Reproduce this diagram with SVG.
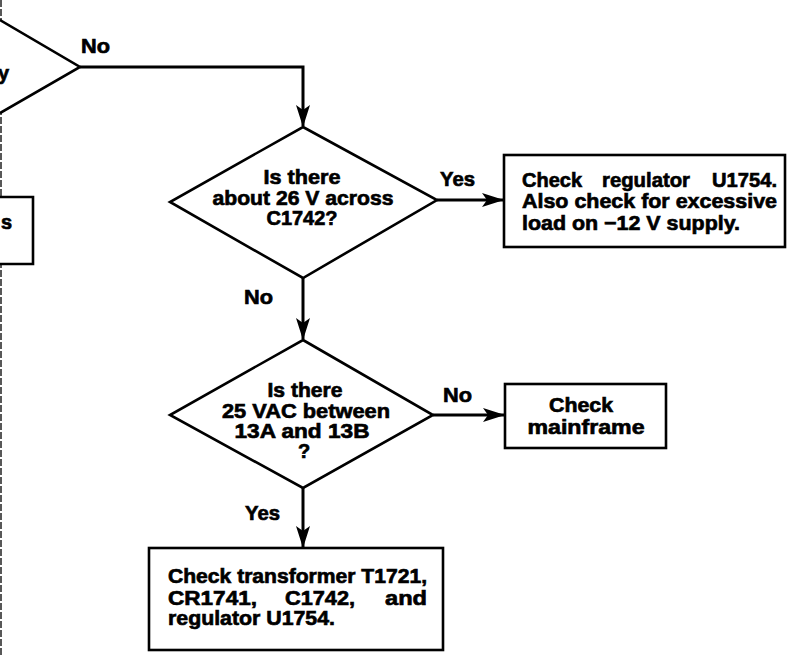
<svg xmlns="http://www.w3.org/2000/svg" width="789" height="656" viewBox="0 0 789 656">
<defs>
<style>
.shape{fill:#fff;stroke:#000;stroke-width:2.6;stroke-linejoin:miter}
.conn{fill:none;stroke:#000;stroke-width:3}
text{font-family:"Liberation Sans",Arial,Helvetica,sans-serif;font-weight:bold;font-size:20px;fill:#000;stroke:#000;stroke-width:0.65}
.c{text-anchor:middle}
.e{text-anchor:end}
</style>
<marker id="arr" markerUnits="userSpaceOnUse" markerWidth="22" markerHeight="14" refX="21" refY="7" orient="auto">
<path d="M0,0 L22,7 L0,14 L5,7 z" fill="#000"/>
</marker>
</defs>
<rect width="789" height="656" fill="#fff"/>
<line x1="1" y1="0" x2="1" y2="656" stroke="#222" stroke-width="1.5" stroke-dasharray="7 2"/>

<g id="node-top-decision">
<polyline class="shape" points="0,20 80,67 0,113" fill="none"/>
<text x="-2" y="80">y</text>
</g>
<g id="node-left-box">
<polyline class="shape" points="0,197 33,197 33,264 0,264" fill="none"/>
<text x="1" y="229">s</text>
</g>

<g id="connectors">
<path class="conn" d="M80,67 H303 V126" marker-end="url(#arr)"/>
<path class="conn" d="M437,200 H503" marker-end="url(#arr)"/>
<path class="conn" d="M303,278 V339" marker-end="url(#arr)"/>
<path class="conn" d="M433,415 H504" marker-end="url(#arr)"/>
<path class="conn" d="M303,488 V547" marker-end="url(#arr)"/>
<text x="81" y="53" textLength="29" lengthAdjust="spacingAndGlyphs">No</text>
<text x="440" y="186" textLength="35" lengthAdjust="spacingAndGlyphs">Yes</text>
<text x="244" y="304" textLength="29" lengthAdjust="spacingAndGlyphs">No</text>
<text x="443" y="402" textLength="29" lengthAdjust="spacingAndGlyphs">No</text>
<text x="245" y="520" textLength="35" lengthAdjust="spacingAndGlyphs">Yes</text>
</g>

<g id="node-d1">
<polygon class="shape" points="303,127 437,200 303,278 170,202"/>
<text class="c" x="302" y="184" textLength="77" lengthAdjust="spacingAndGlyphs">Is there</text>
<text class="c" x="303" y="205" textLength="181" lengthAdjust="spacingAndGlyphs">about 26 V across</text>
<text class="c" x="302" y="225" textLength="71" lengthAdjust="spacingAndGlyphs">C1742?</text>
</g>

<g id="node-box1">
<rect class="shape" x="504" y="155" width="281" height="92"/>
<text x="522" y="187" textLength="60" lengthAdjust="spacingAndGlyphs">Check</text>
<text x="602" y="187" textLength="88" lengthAdjust="spacingAndGlyphs">regulator</text>
<text class="e" x="777" y="187" textLength="65" lengthAdjust="spacingAndGlyphs">U1754.</text>
<text x="522" y="208" textLength="255" lengthAdjust="spacingAndGlyphs">Also check for excessive</text>
<text x="522" y="230" textLength="218" lengthAdjust="spacingAndGlyphs">load on −12 V supply.</text>
</g>

<g id="node-d2">
<polygon class="shape" points="303,340 433,415 303,488 170,415"/>
<text class="c" x="305" y="397" textLength="75" lengthAdjust="spacingAndGlyphs">Is there</text>
<text class="c" x="306" y="418" textLength="168" lengthAdjust="spacingAndGlyphs">25 VAC between</text>
<text class="c" x="302" y="438" textLength="135" lengthAdjust="spacingAndGlyphs">13A and 13B</text>
<text class="c" x="304" y="458">?</text>
</g>

<g id="node-box2">
<rect class="shape" x="505" y="384" width="161" height="64"/>
<text class="c" x="581" y="412" textLength="64" lengthAdjust="spacingAndGlyphs">Check</text>
<text class="c" x="586" y="434" textLength="117" lengthAdjust="spacingAndGlyphs">mainframe</text>
</g>

<g id="node-box3">
<rect class="shape" x="149" y="548" width="294" height="102"/>
<text x="168" y="583" textLength="259" lengthAdjust="spacingAndGlyphs">Check transformer T1721,</text>
<text x="168" y="605" textLength="89" lengthAdjust="spacingAndGlyphs">CR1741,</text>
<text x="285" y="605" textLength="70" lengthAdjust="spacingAndGlyphs">C1742,</text>
<text class="e" x="427" y="605" textLength="42" lengthAdjust="spacingAndGlyphs">and</text>
<text x="168" y="625" textLength="167" lengthAdjust="spacingAndGlyphs">regulator U1754.</text>
</g>
</svg>
